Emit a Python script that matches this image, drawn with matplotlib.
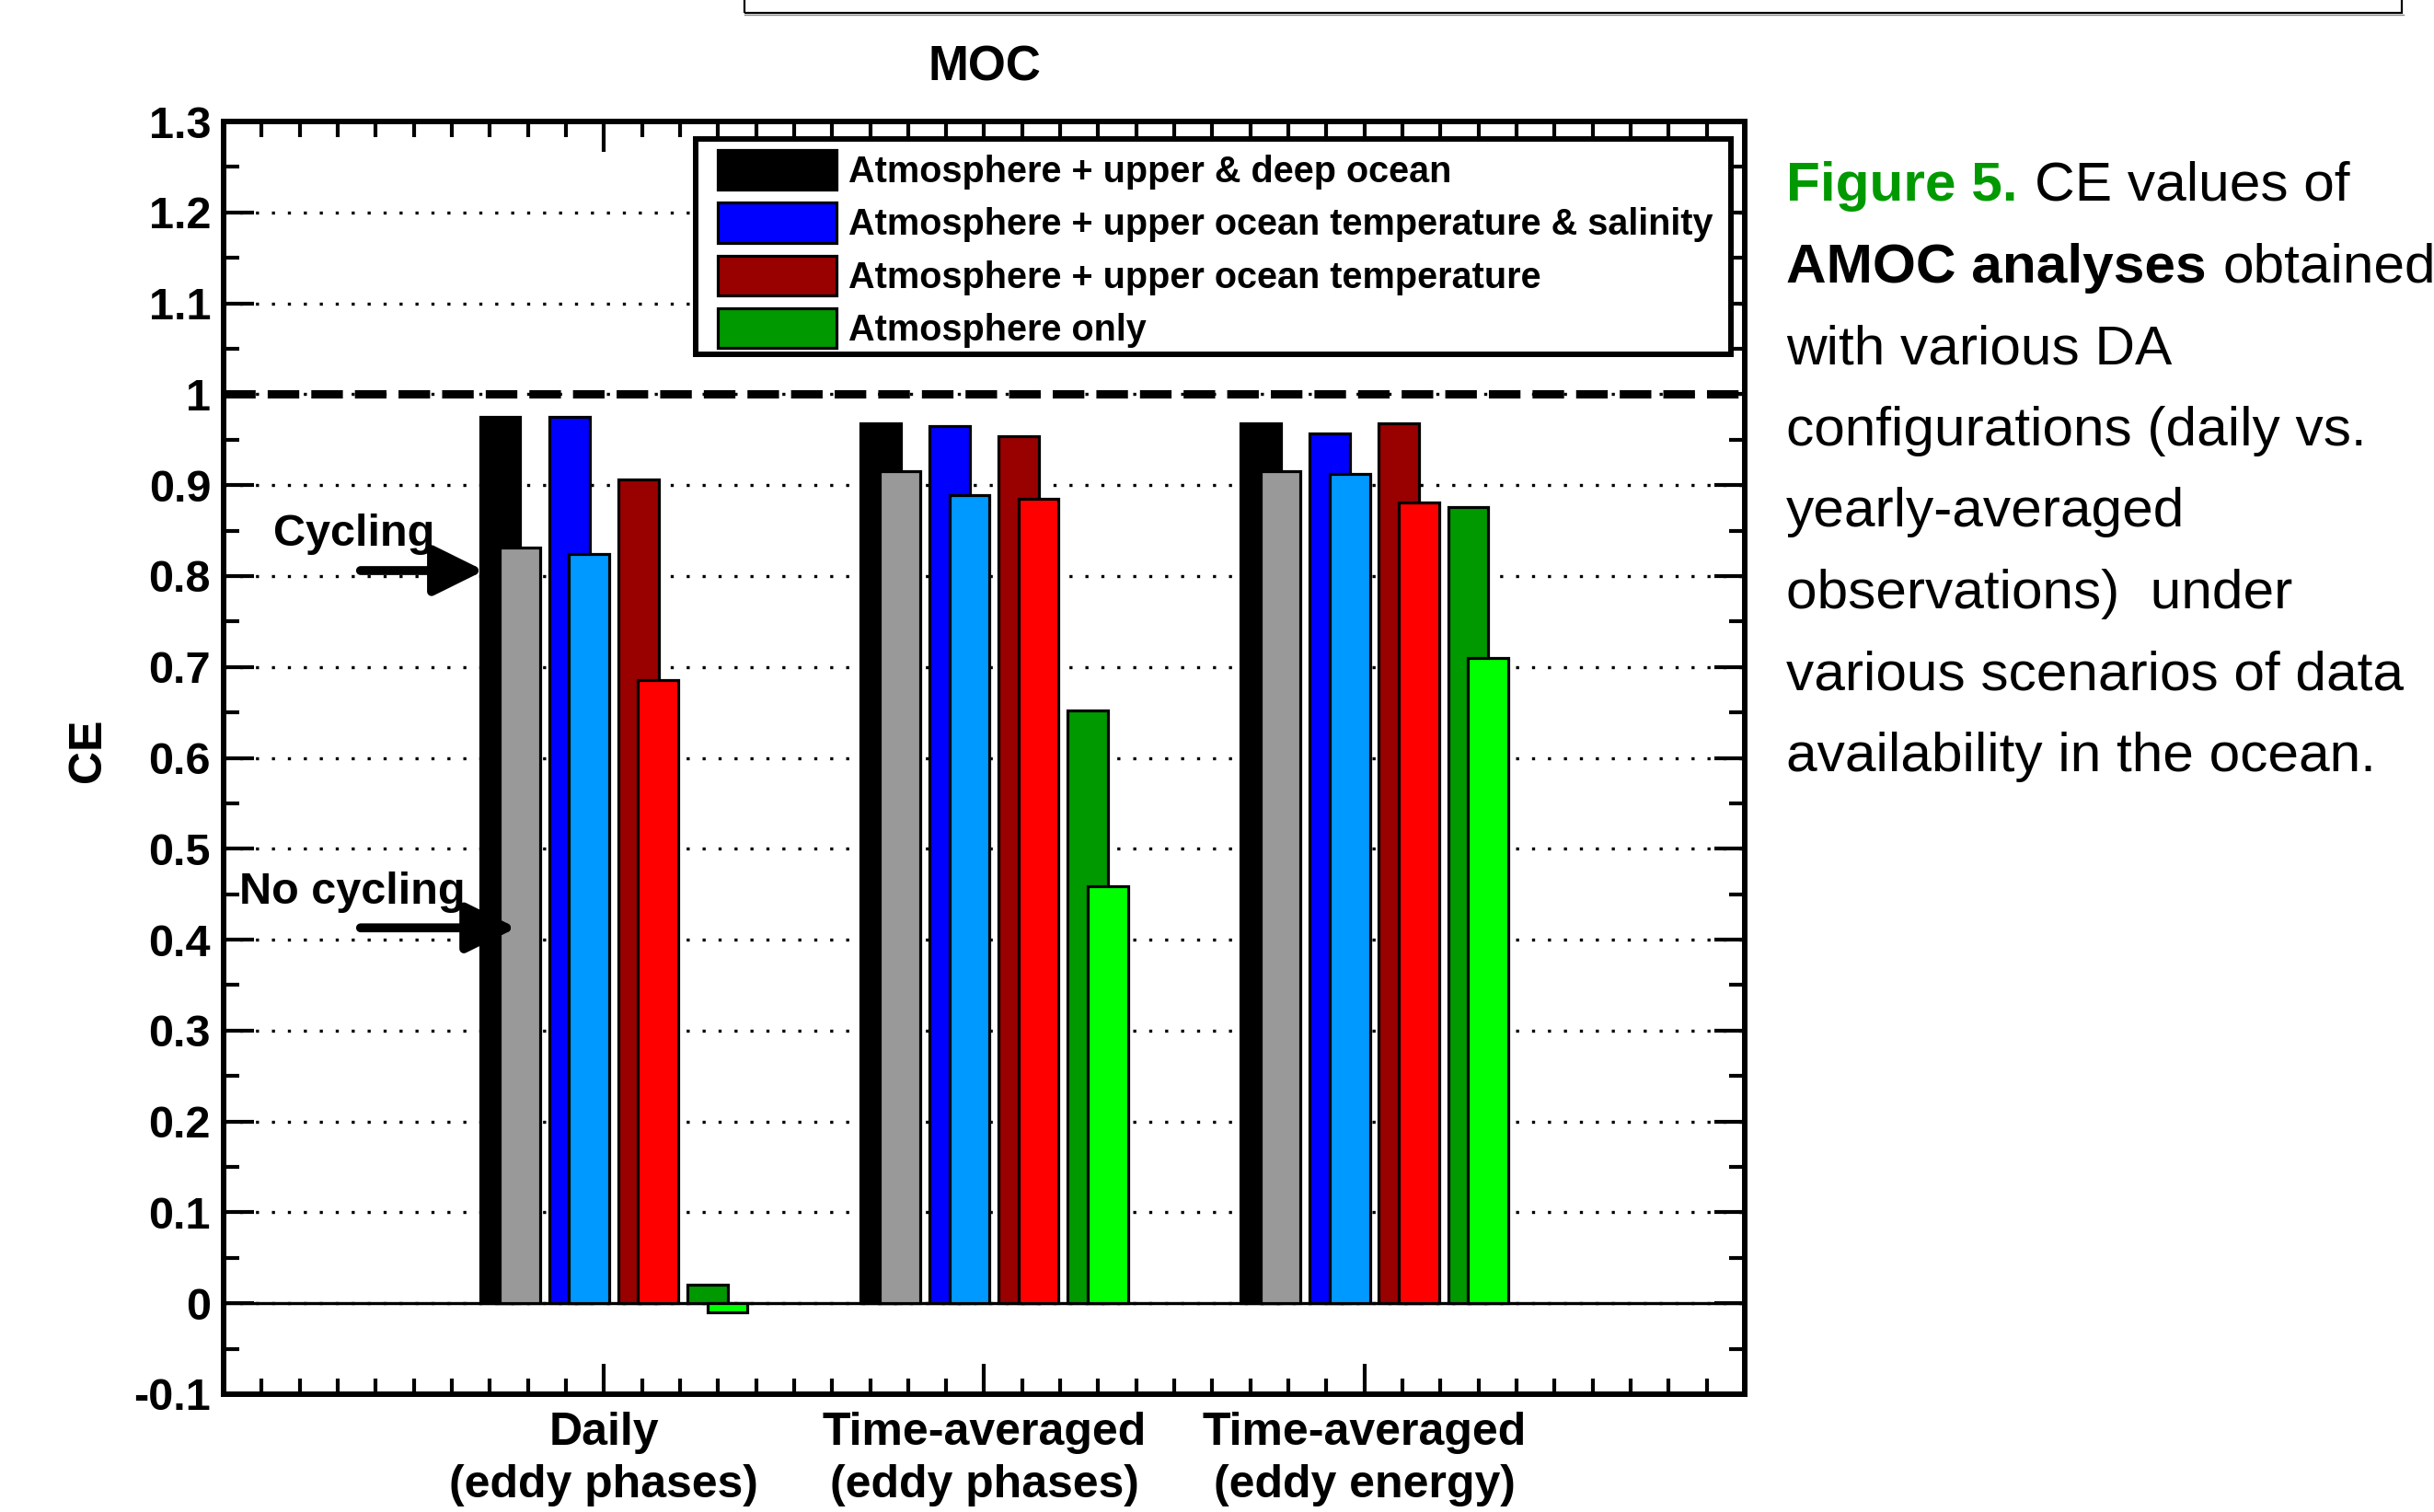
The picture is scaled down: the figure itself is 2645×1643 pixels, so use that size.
import numpy as np
import matplotlib
matplotlib.use("Agg")
import matplotlib.pyplot as plt
from matplotlib.ticker import MultipleLocator
from matplotlib.patches import Rectangle
from matplotlib.lines import Line2D

plt.rcParams["font.family"] = ["Liberation Sans", "DejaVu Sans"]

# =========================================================
# DATA (CE values)
# =========================================================
group_labels = ["Daily\n(eddy phases)", "Time-averaged\n(eddy phases)", "Time-averaged\n(eddy energy)"]
config_labels = [
    "Atmosphere + upper & deep ocean",
    "Atmosphere + upper ocean temperature & salinity",
    "Atmosphere + upper ocean temperature",
    "Atmosphere only",
]

# cycling (dark bars)
ce_deep = [0.975, 0.968, 0.968]
ce_ts = [0.975, 0.965, 0.957]
ce_t = [0.906, 0.954, 0.968]
ce_atm = [0.020, 0.652, 0.876]

# no cycling (light bars)
ce_deep_nc = [0.831, 0.915, 0.915]
ce_ts_nc = [0.824, 0.889, 0.912]
ce_t_nc = [0.686, 0.885, 0.881]
ce_atm_nc = [-0.010, 0.459, 0.710]

dark_colors = ["#000000", "#0000FF", "#990000", "#009900"]
light_colors = ["#999999", "#0099FF", "#FF0000", "#00FF00"]

ytick_vals = np.round(np.arange(-0.1, 1.31, 0.1), 2)
ytick_labels = ["-0.1", "0", "0.1", "0.2", "0.3", "0.4", "0.5", "0.6",
                "0.7", "0.8", "0.9", "1", "1.1", "1.2", "1.3"]

caption_lines = [
    "with various DA",
    "configurations (daily vs.",
    "yearly-averaged",
    "observations)  under",
    "various scenarios of data",
    "availability in the ocean.",
]

# =========================================================
# FIGURE
# =========================================================
W, H = 2645, 1643
fig = plt.figure(figsize=(W / 100, H / 100), dpi=100)
ax = fig.add_axes([243 / W, 1 - 1515 / H, (1896 - 243) / W, (1515 - 132) / H])

x = np.arange(1, len(group_labels) + 1)
spacing = 0.1818
width = 0.106
shift = 0.052

cyc = [ce_deep, ce_ts, ce_t, ce_atm]
nocyc = [ce_deep_nc, ce_ts_nc, ce_t_nc, ce_atm_nc]

handles = []
for i in range(4):
    xd = x + (i - 1.5) * spacing
    b = ax.bar(xd, cyc[i], width, color=dark_colors[i], edgecolor="black",
               linewidth=2.3, zorder=2)
    ax.bar(xd + shift, nocyc[i], width, color=light_colors[i], edgecolor="black",
           linewidth=2.3, zorder=2)
    handles.append(b)

# reference lines
ax.axhline(0, color="black", linewidth=2.4, zorder=1.5)
ax.axhline(1, color="black", linewidth=6.5, linestyle=(0, (3.8, 1.45)), zorder=1.6)

ax.set_xlim(0, 4)
ax.set_ylim(-0.1, 1.3)
ax.set_xticks(x, labels=group_labels)
ax.xaxis.set_minor_locator(MultipleLocator(0.1))
ax.set_yticks(ytick_vals, labels=ytick_labels)
ax.yaxis.set_minor_locator(MultipleLocator(0.05))

ax.tick_params(which="both", direction="in", top=True, right=True, width=3.0)
ax.tick_params(which="major", length=24)
ax.tick_params(which="minor", length=12)
ax.tick_params(axis="y", labelsize=35, pad=10)
ax.tick_params(axis="x", labelsize=36, pad=14)
for lab in ax.get_xticklabels() + ax.get_yticklabels():
    lab.set_fontweight("bold")
for lab in ax.get_xticklabels():
    lab.set_linespacing(1.3)

for s in ax.spines.values():
    s.set_linewidth(4.3)

ax.set_axisbelow(True)
ax.yaxis.grid(True, color="black", linewidth=2.4, linestyle=(0, (1, 4.2)))

ax.set_title("MOC", fontsize=38, fontweight="bold", pad=32)
ax.set_ylabel("CE", fontsize=36, fontweight="bold")
ax.yaxis.set_label_coords(-0.075, 0.506)

# legend: own frame drawn as a rectangle, entries placed without frame
ax.add_patch(Rectangle((0.3103, 0.8171), 0.9909 - 0.3103, 0.9863 - 0.8171,
                       transform=ax.transAxes, facecolor="white", edgecolor="black",
                       linewidth=4.3, zorder=4.9))
leg = ax.legend(handles, config_labels, loc="upper left", bbox_to_anchor=(0.3249, 0.9776),
                borderaxespad=0, borderpad=0, prop={"weight": "bold", "size": 28.5},
                handlelength=3.26, handleheight=1.3, labelspacing=0.36,
                handletextpad=0.33, frameon=False)
leg.set_zorder(5)

# cycling / no cycling arrows
arrow_kw = dict(arrowstyle="-|>,head_length=0.95,head_width=0.47", mutation_scale=35,
                lw=7, color="black", shrinkA=0, shrinkB=0)
ax.annotate("", xy=(0.685, 0.806), xytext=(0.36, 0.806), arrowprops=arrow_kw, zorder=5)
ax.annotate("", xy=(0.77, 0.413), xytext=(0.36, 0.413), arrowprops=arrow_kw, zorder=5)
ax.text(0.1295, 0.833, "Cycling", fontsize=35, fontweight="bold", va="baseline", ha="left")
ax.text(0.0404, 0.440, "No cycling", fontsize=35, fontweight="bold", va="baseline", ha="left")

# caption on the right
cx = 1941 / W
fs = 43.5
line_step = 88.6
t1 = fig.text(cx, 1 - 218 / H, "Figure 5.", color="#009900", fontsize=fs,
              fontweight="bold", va="baseline", ha="left")
ax.annotate("CE values of", xy=(1, 0), xycoords=t1, xytext=(13, 0),
            textcoords="offset points", va="bottom", ha="left", fontsize=fs)
t2 = fig.text(cx, 1 - (218 + line_step) / H, "AMOC analyses", fontsize=fs,
              fontweight="bold", va="baseline", ha="left")
ax.annotate("obtained", xy=(1, 0), xycoords=t2, xytext=(13, 0),
            textcoords="offset points", va="bottom", ha="left", fontsize=fs)
for k, line in enumerate(caption_lines):
    fig.text(cx, 1 - (218 + line_step * (k + 2)) / H, line, fontsize=fs,
             va="baseline", ha="left")

# box cut at top of the page
fig.add_artist(Rectangle((809 / W, 1 - 14 / H), (2610 - 809) / W, 0.05,
                         transform=fig.transFigure, fill=False, lw=1.6,
                         ec="black", clip_on=False))
fig.add_artist(Line2D([809 / W, 2612 / W], [1 - 16 / H, 1 - 16 / H],
                      transform=fig.transFigure, color="#888888", lw=1.0))

fig.savefig("out.png", dpi=100)
